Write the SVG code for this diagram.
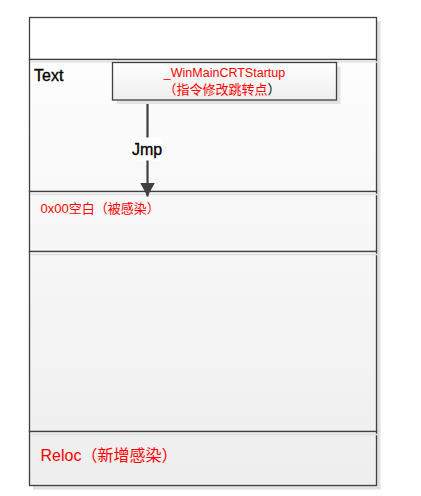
<svg xmlns="http://www.w3.org/2000/svg" width="421" height="496" viewBox="0 0 421 496">
<style>
.sec{stroke:#404040;stroke-width:1.3}
.sh{fill:#e0e0e0}
.shl{stroke:#e0e0e0;stroke-width:1.5}
.red{fill:#ff0000;font-family:"Liberation Sans","Noto Sans CJK SC",sans-serif}
.blk{fill:#000000;stroke:#000000;stroke-width:0.35;font-family:"Liberation Sans","Noto Sans CJK SC",sans-serif}
</style>
<defs>
<linearGradient id="g1" gradientUnits="userSpaceOnUse" x1="0" y1="17" x2="0" y2="485">
<stop offset="0" stop-color="#ffffff"/>
<stop offset="1" stop-color="#eeeeee"/>
</linearGradient>
<linearGradient id="g2" x1="0" y1="0" x2="0" y2="1">
<stop offset="0" stop-color="#ffffff"/>
<stop offset="1" stop-color="#eeeeee"/>
</linearGradient>
<marker id="ah" markerUnits="userSpaceOnUse" markerWidth="16" markerHeight="16" refX="14" refY="7.5" orient="auto">
<path d="M0,0 L14,7.5 L0,15 Z" fill="#404040"/>
</marker>
</defs>
<rect x="0" y="0" width="421" height="496" fill="#ffffff"/>
<rect class="sh" x="377" y="21" width="3.5" height="468"/>
<rect class="sh" x="33" y="486" width="347.5" height="3.5"/>
<g id="sec-top">
<rect class="sec" x="29.5" y="17.5" width="347" height="42" fill="#ffffff"/>
</g>
<g id="sec-text">
<rect class="sec" x="29.5" y="59.5" width="347" height="132" fill="url(#g1)"/>
<line class="shl" x1="31" y1="62" x2="380" y2="62"/>
<text class="blk" x="34" y="81" font-size="16">Text</text>
</g>
<g id="sec-blank">
<rect class="sec" x="29.5" y="191.5" width="347" height="60" fill="url(#g1)"/>
<line class="shl" x1="31" y1="194.5" x2="380" y2="194.5"/>
<text class="red" x="40.5" y="212.5" font-size="13">0x00空白（被感染）</text>
</g>
<g id="sec-empty">
<rect class="sec" x="29.5" y="251.5" width="347" height="180" fill="url(#g1)"/>
<line class="shl" x1="31" y1="254.5" x2="380" y2="254.5"/>
</g>
<g id="sec-reloc">
<rect class="sec" x="29.5" y="431.5" width="347" height="54" fill="url(#g1)"/>
<line class="shl" x1="31" y1="434.5" x2="380" y2="434.5"/>
<text class="red" x="40.5" y="461" font-size="16">Reloc（新增感染）</text>
</g>
<g id="connectors">
<line x1="147.5" y1="100.5" x2="147.5" y2="196.5" stroke="#404040" stroke-width="2.2" marker-end="url(#ah)"/>
<rect x="131.5" y="137.5" width="31" height="23" fill="#ffffff"/>
<text class="blk" x="147" y="154.5" font-size="16" text-anchor="middle">Jmp</text>
</g>
<g id="node-entry">
<rect x="116.5" y="66.5" width="224" height="37.5" fill="#e3e3e3"/>
<rect x="112.5" y="62.5" width="224" height="37.5" fill="url(#g2)" stroke="#404040" stroke-width="1.3"/>
<text class="red" x="224.5" y="76.5" font-size="12.5" text-anchor="middle">_WinMainCRTStartup</text>
<text class="red" x="222" y="93.5" font-size="13" text-anchor="middle">（指令修改跳转点<tspan fill="#000000">）</tspan></text>
</g>
</svg>
